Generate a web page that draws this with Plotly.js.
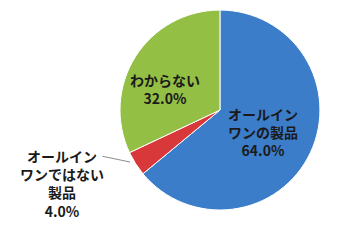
<!DOCTYPE html>
<html><head><meta charset="utf-8">
<script src="https://cdn.plot.ly/plotly-3.0.1.min.js"></script>
<style>html,body{margin:0;padding:0;background:#fff}</style>
</head><body><div id="chart" style="width:360px;height:240px"></div>
<script>
const categories = ['オールインワンの製品', 'オールインワンではない製品', 'わからない'];
const values = [64, 4, 32];
const labelLines = [['オールイン', 'ワンの製品'], ['オールイン', 'ワンではない', '製品'], ['わからない']];
const colors = ['#3C7DC9', '#D8383A', '#93BF45'];

const total = values.reduce((a, b) => a + b, 0);
const pct = values.map(v => (v / total * 100).toFixed(1) + '%');

const trace = {
  type: 'pie',
  labels: categories,
  values: values,
  sort: false,
  direction: 'clockwise',
  rotation: 0,
  textinfo: 'none',
  hoverinfo: 'none',
  marker: {colors: colors, line: {color: '#ffffff', width: 1}},
  domain: {x: [0.333, 0.889], y: [0.125, 0.958]},
  showlegend: false
};

const font = {family: '"Noto Sans CJK JP", sans-serif', size: 14, color: '#1a1a1a', weight: 'bold'};
const pos = [
  {x: 263, y: 132},
  {x: 62, y: 183},
  {x: 165, y: 89}
];
const annotations = categories.map((c, i) => ({
  xref: 'paper', yref: 'paper',
  x: pos[i].x / 360, y: 1 - pos[i].y / 240,
  xanchor: 'center', yanchor: 'middle',
  text: labelLines[i].map(s => '<b>' + s + '</b>').join('<br>') + '<br><b>' + pct[i] + '</b>',
  showarrow: false,
  font: font,
  align: 'center'
}));
annotations.push({
  xref: 'paper', yref: 'paper',
  x: 130 / 360, y: 1 - 162 / 240,
  ax: 101 / 360, ay: 1 - 156 / 240,
  axref: 'paper', ayref: 'paper',
  showarrow: true, arrowhead: 0, arrowwidth: 1, arrowcolor: '#8c8c8c',
  text: ''
});

Plotly.newPlot('chart', [trace], {
  width: 360, height: 240,
  margin: {l: 0, r: 0, t: 0, b: 0},
  paper_bgcolor: '#ffffff',
  annotations: annotations
}, {staticPlot: true});
</script></body></html>
